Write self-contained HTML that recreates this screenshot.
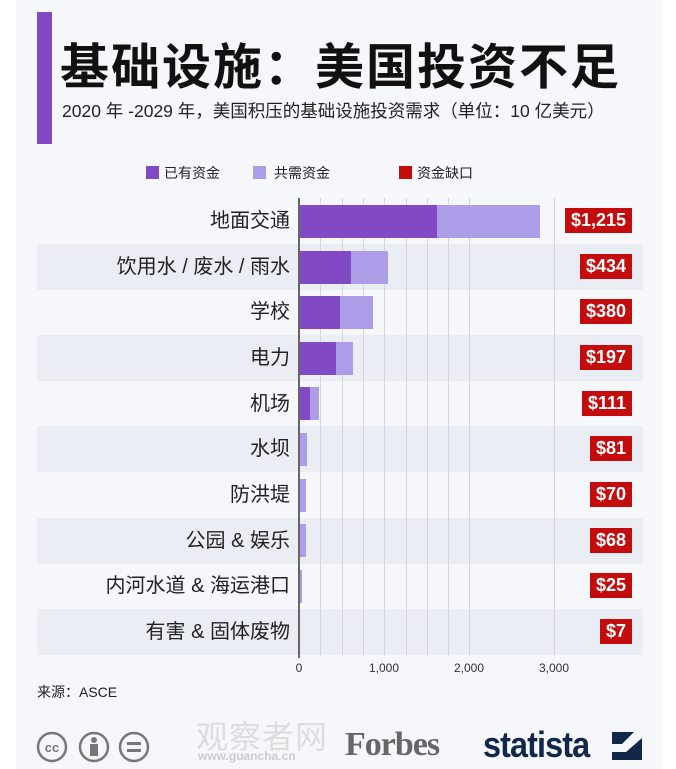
<!DOCTYPE html>
<html><head><meta charset="utf-8"><style>
body{margin:0;width:676px;height:769px;background:#fff;font-family:"Liberation Sans","Noto Sans CJK SC",sans-serif;position:relative;overflow:hidden}
.card{position:absolute;left:16px;top:0;width:646px;height:769px;background:#f5f7fb}
.abs{position:absolute}
.band{position:absolute;left:37px;width:606px;height:46px;background:#eaedf4}
.lab{position:absolute;right:386px;font-size:20px;color:#222;white-space:nowrap;line-height:46px}
.g{position:absolute;top:198px;height:458px;width:1px;background:#d4d6dc}
.d{position:absolute;background:#8149c4;height:33px}
.l{position:absolute;background:#ad9ce8;height:33px}
.r{position:absolute;right:44px;height:25px;line-height:25px;padding:0 6px;background:#c40c0c;color:#fff;font-weight:bold;font-size:18px}
.t{position:absolute;top:661px;font-size:12px;color:#333;transform:translateX(-50%)}
</style></head><body>
<div class="card"></div>
<div class="abs" style="left:37px;top:12px;width:15px;height:132px;background:#8149c4"></div>
<div class="abs" style="left:60px;top:28px;font-size:49px;font-weight:bold;color:#111;letter-spacing:2px;white-space:nowrap">基础设施：美国投资不足</div>
<div class="abs" style="left:62px;top:98px;font-size:17.5px;color:#222;white-space:nowrap">2020 年 -2029 年，美国积压的基础设施投资需求（单位：10 亿美元）</div>
<div class="abs" style="left:146px;top:166px;width:13px;height:13px;background:#8149c4"></div>
<div class="abs" style="left:164px;top:163px;font-size:14px;color:#222">已有资金</div>
<div class="abs" style="left:253px;top:166px;width:13px;height:13px;background:#ad9ce8"></div>
<div class="abs" style="left:274px;top:163px;font-size:14px;color:#222">共需资金</div>
<div class="abs" style="left:399px;top:166px;width:13px;height:13px;background:#c40c0c"></div>
<div class="abs" style="left:417px;top:163px;font-size:14px;color:#222">资金缺口</div>

<div class="band" style="top:244px"></div>
<div class="band" style="top:335px"></div>
<div class="band" style="top:426px"></div>
<div class="band" style="top:518px"></div>
<div class="band" style="top:609px"></div>

<div class="g" style="left:320px"></div><div class="g" style="left:342px"></div><div class="g" style="left:363px"></div><div class="g" style="left:384px"></div><div class="g" style="left:406px"></div><div class="g" style="left:427px"></div><div class="g" style="left:448px"></div><div class="g" style="left:469px"></div><div class="g" style="left:554px"></div>
<div class="abs" style="left:298px;top:198px;width:2px;height:460px;background:#666"></div>

<div class="lab" style="top:198px">地面交通</div>
<div class="lab" style="top:244px">饮用水 / 废水 / 雨水</div>
<div class="lab" style="top:289px">学校</div>
<div class="lab" style="top:335px">电力</div>
<div class="lab" style="top:381px">机场</div>
<div class="lab" style="top:426px">水坝</div>
<div class="lab" style="top:472px">防洪堤</div>
<div class="lab" style="top:518px">公园 &amp; 娱乐</div>
<div class="lab" style="top:563px">内河水道 &amp; 海运港口</div>
<div class="lab" style="top:609px">有害 &amp; 固体废物</div>

<div class="l" style="left:300px;top:205px;width:240px"></div><div class="d" style="left:300px;top:205px;width:137px"></div>
<div class="l" style="left:300px;top:251px;width:88px"></div><div class="d" style="left:300px;top:251px;width:51px"></div>
<div class="l" style="left:300px;top:296px;width:73px"></div><div class="d" style="left:300px;top:296px;width:40px"></div>
<div class="l" style="left:300px;top:342px;width:53px"></div><div class="d" style="left:300px;top:342px;width:36px"></div>
<div class="l" style="left:300px;top:387px;width:19px"></div><div class="d" style="left:300px;top:387px;width:10px"></div>
<div class="l" style="left:300px;top:433px;width:7px"></div>
<div class="l" style="left:300px;top:479px;width:6px"></div>
<div class="l" style="left:300px;top:524px;width:6px"></div>
<div class="l" style="left:300px;top:570px;width:2px"></div>

<div class="r" style="top:208px">$1,215</div>
<div class="r" style="top:254px">$434</div>
<div class="r" style="top:299px">$380</div>
<div class="r" style="top:345px">$197</div>
<div class="r" style="top:391px">$111</div>
<div class="r" style="top:436px">$81</div>
<div class="r" style="top:482px">$70</div>
<div class="r" style="top:528px">$68</div>
<div class="r" style="top:573px">$25</div>
<div class="r" style="top:619px">$7</div>

<div class="t" style="left:299px">0</div>
<div class="t" style="left:384px">1,000</div>
<div class="t" style="left:469px">2,000</div>
<div class="t" style="left:554px">3,000</div>
<div class="abs" style="left:37px;top:682px;font-size:14px;color:#222">来源：ASCE</div>

<svg class="abs" style="left:36px;top:730px" width="120" height="34">
<g fill="none" stroke="#777" stroke-width="2.5">
<circle cx="16" cy="17" r="14"/><circle cx="58" cy="17" r="14"/><circle cx="98" cy="17" r="14"/></g>
<text x="16" y="22" font-size="13" font-weight="bold" fill="#777" text-anchor="middle" font-family="Liberation Sans">cc</text>
<circle cx="58" cy="10" r="3" fill="#777"/><rect x="54" y="14" width="8" height="12" fill="#777"/>
<rect x="91" y="12" width="14" height="3" fill="#777"/><rect x="91" y="19" width="14" height="3" fill="#777"/>
</svg>
<div class="abs" style="left:196px;top:712px;font-size:32px;color:#ddd;letter-spacing:1px">观察者网</div>
<div class="abs" style="left:198px;top:749px;font-size:12px;color:#ccc;font-weight:bold">www.guancha.cn</div>
<div class="abs" style="left:345px;top:726px;font-family:'Liberation Serif',serif;font-size:34px;font-weight:bold;color:#666;letter-spacing:-1px">Forbes</div>
<div class="abs" style="left:483px;top:724px;font-size:36px;font-weight:bold;color:#12284a;letter-spacing:-1px;transform:scaleX(0.9);transform-origin:left">statista</div>
<svg class="abs" style="left:612px;top:732px" width="30" height="28"><rect width="30" height="28" fill="#12284a"/><path d="M0 20 L14 20 L30 6 L30 0 L22 0 L10 12 L0 12Z" fill="#f5f7fb"/></svg>
</body></html>
